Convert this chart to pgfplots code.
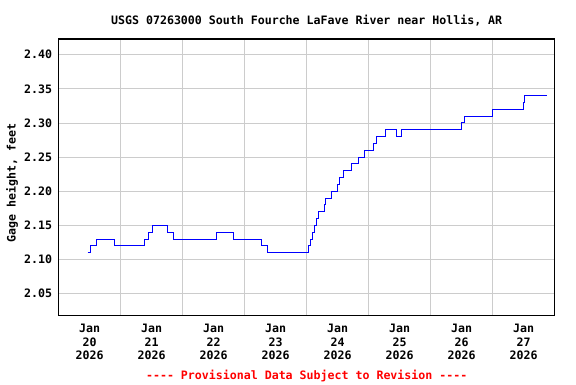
\documentclass[border=0pt]{standalone}
\usepackage{pgfplots}
\pgfplotsset{compat=1.18}
\usepackage{fontspec}
\setmainfont{DejaVu Sans Mono}[Ligatures=TeXOff]
\definecolor{gridgray}{RGB}{204,204,204}
\begin{document}
\begin{tikzpicture}
\begin{axis}[
  at={(0,0)}, anchor=south west,
  scale only axis, width=496bp, height=276.7bp,
  xmin=0, xmax=8, ymin=2.0178, ymax=2.423,
  font=\fontsize{11.6bp}{13bp}\selectfont\bfseries,
  axis line style={black, line width=1.3bp},
  xtick={1,2,3,4,5,6,7}, xticklabels={},
  major tick length=0pt,
  xmajorgrids, ymajorgrids,
  grid style={gridgray, line width=0.9bp},
  extra x ticks={0.5,1.5,2.5,3.5,4.5,5.5,6.5,7.5},
  extra x tick labels={Jan\\20\\2026,Jan\\21\\2026,Jan\\22\\2026,Jan\\23\\2026,Jan\\24\\2026,Jan\\25\\2026,Jan\\26\\2026,Jan\\27\\2026},
  extra x tick style={grid=none, tick style={draw=none}},
  xticklabel style={align=center, font=\fontsize{11.6bp}{13.6bp}\selectfont\bfseries, yshift=-5bp},
  ytick={2.05,2.10,2.15,2.20,2.25,2.30,2.35,2.40},
  /pgf/number format/fixed, /pgf/number format/fixed zerofill, /pgf/number format/precision=2, /pgf/number format/assume math mode=true,
  yticklabel style={font=\fontsize{11.6bp}{13bp}\selectfont\bfseries, xshift=-3bp},
  clip=true,
]
\addplot[const plot mark left, blue, line width=1bp] coordinates {
(0.468,2.11)
(0.516,2.12)
(0.603,2.13)
(0.903,2.12)
(1.380,2.13)
(1.450,2.14)
(1.516,2.15)
(1.753,2.14)
(1.845,2.13)
(2.548,2.14)
(2.823,2.13)
(3.270,2.12)
(3.371,2.11)
(4.027,2.12)
(4.065,2.13)
(4.092,2.14)
(4.124,2.15)
(4.156,2.16)
(4.194,2.17)
(4.290,2.18)
(4.307,2.19)
(4.403,2.20)
(4.490,2.21)
(4.532,2.22)
(4.597,2.23)
(4.726,2.24)
(4.839,2.25)
(4.935,2.26)
(5.081,2.27)
(5.129,2.28)
(5.274,2.29)
(5.452,2.28)
(5.532,2.29)
(6.495,2.30)
(6.548,2.31)
(7.000,2.32)
(7.500,2.33)
(7.516,2.34)
(7.871,2.34)
};
\end{axis}
\node[font=\fontsize{11.6bp}{13bp}\selectfont\bfseries] at (248bp,294.7bp) {USGS 07263000 South Fourche LaFave River near Hollis, AR};
\node[font=\fontsize{11.6bp}{13bp}\selectfont\bfseries, rotate=90] at (-46.7bp,133bp) {Gage height, feet};
\node[font=\fontsize{11.6bp}{13bp}\selectfont\bfseries, text=red] at (248bp,-59.8bp) {---- Provisional Data Subject to Revision ----};
\path[use as bounding box] (-58.7bp,-68.3bp) rectangle (517.3bp,315.7bp);
\end{tikzpicture}
\end{document}
